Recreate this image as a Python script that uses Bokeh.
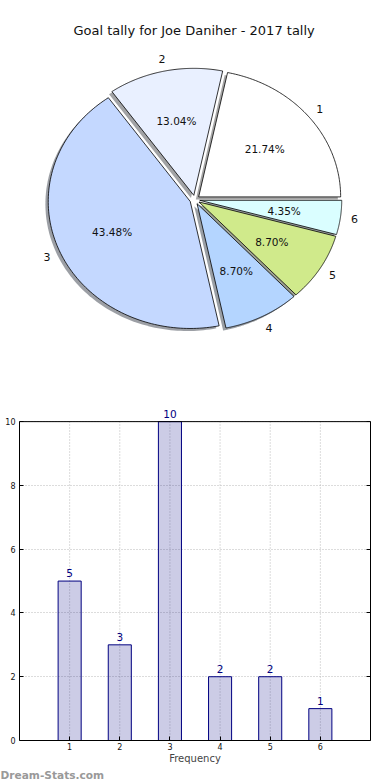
import numpy as np
from bokeh.plotting import figure
from bokeh.layouts import column
from bokeh.models import ColumnDataSource, Label, Range1d, FixedTicker, Span, LinearAxis, Title
from bokeh.core.properties import value
from bokeh.embed import file_html
from bokeh.resources import INLINE

# ---- data ----
title_text = "Goal tally for Joe Daniher - 2017 tally"
goals = [1, 2, 3, 4, 5, 6]
matches = [5, 3, 10, 2, 2, 1]
slice_labels = ["1", "2", "3", "4", "5", "6"]
slice_colors = ["#ffffff", "#e9f0ff", "#c4d8ff", "#b4d5ff", "#d0ea8b", "#dafeff"]
y_ticks = [0, 2, 4, 6, 8, 10]
x_label = "Frequency"
watermark = "Dream-Stats.com"

FONT = "DejaVu Sans"

# ---- pie ----
vals = np.array(matches, dtype=float)
frac = vals / vals.sum()
ends = np.cumsum(frac) * 2 * np.pi
starts = ends - frac * 2 * np.pi
mids = (starts + ends) / 2
explode = 0.035
shadow_off = 0.02

xs, ys, sxs, sys_ = [], [], [], []
lx, ly, px, py, pct = [], [], [], [], []
shadow_cols = []
for s, e, m, f, c in zip(starts, ends, mids, frac, slice_colors):
    cx, cy = explode * np.cos(m), explode * np.sin(m)
    t = np.linspace(s, e, 120)
    x = np.concatenate([[cx], cx + np.cos(t)])
    y = np.concatenate([[cy], cy + np.sin(t)])
    xs.append(list(x)); ys.append(list(y))
    sxs.append(list(x - shadow_off)); sys_.append(list(y - shadow_off))
    lx.append(cx + 1.1 * np.cos(m)); ly.append(cy + 1.1 * np.sin(m))
    px.append(cx + 0.6 * np.cos(m)); py.append(cy + 0.6 * np.sin(m))
    pct.append("%.2f%%" % (f * 100))
    r, g, b = int(c[1:3], 16), int(c[3:5], 16), int(c[5:7], 16)
    shadow_cols.append("#%02x%02x%02x" % (int(r * 0.3), int(g * 0.3), int(b * 0.3)))

p1 = figure(width=390, height=380, x_range=Range1d(-1.2345, 1.2373),
            y_range=Range1d(-1.4236, 1.5685), output_backend="svg",
            toolbar_location=None, min_border_left=19, min_border_right=20,
            min_border_top=0, min_border_bottom=0,
            x_axis_location=None, y_axis_location=None)
p1.grid.visible = False
p1.outline_line_color = None

p1.patches(xs=sxs, ys=sys_, fill_color=shadow_cols, fill_alpha=0.5, line_color=None)
p1.patches(xs=xs, ys=ys, fill_color=slice_colors, line_color="black", line_width=0.8)
p1.text(x=lx, y=ly, text=slice_labels, text_align="center", text_baseline="middle",
        text_font=value(FONT), text_font_size="11px", text_color="#111111")
p1.text(x=px, y=py, text=pct, text_align="center", text_baseline="middle",
        text_font=value(FONT), text_font_size="10.5px", text_color="#111111")
p1.text(x=[-0.005], y=[1.332], text=[title_text], text_align="center", text_baseline="middle",
        text_font=value(FONT), text_font_size="13px", text_color="#111111")

# ---- bar chart ----
y_top = y_ticks[-1]
p2 = figure(width=390, height=400, x_range=Range1d(0, 7), y_range=Range1d(0, y_top + 0.6),
            output_backend="svg", toolbar_location=None,
            min_border_left=19, min_border_right=20, min_border_top=22, min_border_bottom=40)
p2.outline_line_color = None

# grid
p2.xgrid.visible = False
p2.ygrid.ticker = FixedTicker(ticks=y_ticks)
p2.ygrid.grid_line_color = "#b8b8b8"
p2.ygrid.grid_line_dash = "1 2"
n = len(goals)
p2.segment(x0=goals, y0=[y_ticks[0]] * n, x1=goals, y1=[y_top] * n,
           line_color="#b8b8b8", line_dash="1 2", line_width=1)

src = ColumnDataSource(dict(x=goals, top=matches))
p2.vbar(x="x", top="top", width=0.46, source=src, fill_color="#000080", fill_alpha=0.2,
        line_color="#000080", line_width=1)
for g, v in zip(goals, matches):
    p2.add_layout(Label(x=g, y=v, text=str(v), y_offset=4,
                        text_align="center", text_baseline="bottom",
                        text_color="#000080", text_font=FONT,
                        text_font_size="10.5px"))

# top spine
p2.add_layout(Span(location=y_top, dimension="width", line_color="black", line_width=1))

p2.xaxis.ticker = FixedTicker(ticks=goals)
p2.yaxis.ticker = FixedTicker(ticks=y_ticks)
p2.yaxis.bounds = (y_ticks[0], y_top)
for ax in (p2.xaxis, p2.yaxis):
    ax.major_label_text_font = FONT
    ax.major_label_text_font_size = "8px"
    ax.major_label_text_color = "#111111"
    ax.major_tick_in = 4
    ax.major_tick_out = 0
    ax.minor_tick_in = 0
    ax.minor_tick_out = 0
    ax.axis_line_color = "black"
    ax.major_tick_line_color = "black"
    ax.major_label_standoff = 4
p2.xaxis.major_label_standoff = 2
p2.xaxis.axis_label = x_label
p2.xaxis.axis_label_text_font = FONT
p2.xaxis.axis_label_text_font_style = "normal"
p2.xaxis.axis_label_text_font_size = "10px"
p2.xaxis.axis_label_standoff = 0

# right spine (no labels)
right_axis = LinearAxis(bounds=(y_ticks[0], y_top), ticker=FixedTicker(ticks=y_ticks))
right_axis.major_label_text_font_size = "0px"
right_axis.major_label_text_alpha = 0
right_axis.major_label_standoff = 0
right_axis.major_tick_in = 4
right_axis.major_tick_out = 0
right_axis.minor_tick_in = 0
right_axis.minor_tick_out = 0
right_axis.axis_line_color = "black"
p2.add_layout(right_axis, "right")

wm = Title(text=watermark, align="left", offset=-19, standoff=0,
           text_color="#999999", text_font=FONT, text_font_size="10.6px",
           text_font_style="bold")
p2.add_layout(wm, "below")

layout = column(p1, p2, spacing=0)
open("out.html", "w").write(file_html(layout, INLINE))
